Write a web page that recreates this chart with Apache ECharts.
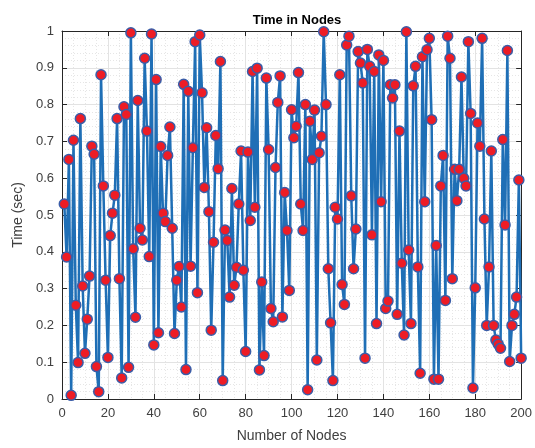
<!DOCTYPE html>
<html>
<head>
<meta charset="utf-8">
<script src="https://cdn.jsdelivr.net/npm/echarts@6/dist/echarts.min.js"></script>
<style>
  html, body { margin: 0; padding: 0; background: #ffffff; }
  #chart { width: 535px; height: 448px; }
</style>
</head>
<body>
<div id="chart"></div>
<script>
// Elapsed time recorded at each node (seconds), nodes 1..200
const timeSec = [
  0.53, 0.386, 0.651, 0.01, 0.703, 0.255, 0.099, 0.762, 0.307, 0.124,
  0.217, 0.334, 0.687, 0.665, 0.088, 0.02, 0.881, 0.579, 0.323, 0.113,
  0.444, 0.505, 0.554, 0.762, 0.327, 0.057, 0.794, 0.773, 0.086, 0.995,
  0.408, 0.222, 0.811, 0.464, 0.432, 0.926, 0.728, 0.387, 0.992, 0.147,
  0.868, 0.18, 0.686, 0.505, 0.482, 0.662, 0.739, 0.464, 0.178, 0.323,
  0.36, 0.25, 0.855, 0.08, 0.836, 0.361, 0.683, 0.971, 0.289, 0.989,
  0.832, 0.575, 0.737, 0.509, 0.187, 0.426, 0.716, 0.626, 0.917, 0.05,
  0.459, 0.431, 0.277, 0.572, 0.309, 0.358, 0.53, 0.674, 0.35, 0.129,
  0.671, 0.485, 0.89, 0.521, 0.899, 0.079, 0.318, 0.118, 0.872, 0.678,
  0.246, 0.21, 0.629, 0.806, 0.878, 0.223, 0.561, 0.458, 0.295, 0.786,
  0.71, 0.741, 0.887, 0.53, 0.458, 0.8, 0.025, 0.755, 0.651, 0.785,
  0.106, 0.669, 0.714, 0.998, 0.8, 0.354, 0.207, 0.05, 0.521, 0.489,
  0.881, 0.311, 0.257, 0.962, 0.986, 0.552, 0.354, 0.462, 0.944, 0.913,
  0.859, 0.111, 0.95, 0.904, 0.446, 0.89, 0.205, 0.935, 0.536, 0.92,
  0.246, 0.266, 0.854, 0.818, 0.854, 0.23, 0.728, 0.369, 0.174, 0.998,
  0.405, 0.205, 0.851, 0.904, 0.359, 0.07, 0.93, 0.536, 0.949, 0.98,
  0.759, 0.054, 0.417, 0.054, 0.579, 0.662, 0.268, 0.986, 0.926, 0.327,
  0.624, 0.539, 0.624, 0.875, 0.6, 0.579, 0.971, 0.776, 0.03, 0.302,
  0.75, 0.687, 0.98, 0.489, 0.2, 0.359, 0.674, 0.2, 0.16, 0.149,
  0.138, 0.705, 0.473, 0.947, 0.102, 0.2, 0.23, 0.277, 0.595, 0.111
];
const nodeIds = timeSec.map((_, i) => i + 1);

const xTicks = { min: 0, max: 200, interval: 20 };
const yTicks = { min: 0, max: 1, interval: 0.1 };

const chartTitle = 'Time in Nodes';
const xName = 'Number of Nodes';
const yName = 'Time (sec)';

const FONT = '"Liberation Sans", Arial, Helvetica, sans-serif';
const TXT = '#404040';
const AXIS = '#262626';

const chart = echarts.init(document.getElementById('chart'), null, { renderer: 'canvas' });

const points = nodeIds.map((n, i) => [n, timeSec[i]]);

const majorGrid = { show: true, lineStyle: { color: '#e3e3e3', width: 1 } };
const minorGrid = { show: true, lineStyle: { color: '#e6e6e6', width: 1, type: [1, 2] } };

function fmtY(v) {
  const r = Math.round(v * 10) / 10;
  return String(r);
}

chart.setOption({
  backgroundColor: '#ffffff',
  animation: false,
  title: {
    text: chartTitle,
    left: 292, top: 9, textAlign: 'center',
    textStyle: { fontFamily: FONT, fontSize: 13, fontWeight: 'bold', color: '#000000' }
  },
  grid: { left: 62, right: 13, top: 31, bottom: 47, show: false },
  xAxis: [
    {
      type: 'value', min: xTicks.min, max: xTicks.max, interval: xTicks.interval,
      name: xName, nameLocation: 'middle', nameGap: 30,
      nameTextStyle: { fontFamily: FONT, fontSize: 14, color: TXT },
      axisLine: { show: true, onZero: false, lineStyle: { color: AXIS, width: 1 } },
      axisTick: { show: true, inside: true, length: 5, lineStyle: { color: AXIS } },
      minorTick: { show: true, splitNumber: 4, length: 0 },
      axisLabel: { fontFamily: FONT, fontSize: 13, color: TXT, margin: 8 },
      splitLine: majorGrid,
      minorSplitLine: minorGrid
    },
    {
      type: 'value', position: 'top', min: xTicks.min, max: xTicks.max, interval: xTicks.interval,
      axisLine: { show: true, onZero: false, lineStyle: { color: AXIS, width: 1 } },
      axisTick: { show: true, inside: true, length: 5, lineStyle: { color: AXIS } },
      axisLabel: { show: false },
      splitLine: { show: false }
    }
  ],
  yAxis: [
    {
      type: 'value', min: yTicks.min, max: yTicks.max, interval: yTicks.interval,
      name: yName, nameLocation: 'middle', nameGap: 34,
      nameTextStyle: { fontFamily: FONT, fontSize: 14, color: TXT },
      axisLine: { show: true, onZero: false, lineStyle: { color: AXIS, width: 1 } },
      axisTick: { show: true, inside: true, length: 5, lineStyle: { color: AXIS } },
      minorTick: { show: true, splitNumber: 5, length: 0 },
      axisLabel: { fontFamily: FONT, fontSize: 13, color: TXT, margin: 8, formatter: fmtY },
      splitLine: majorGrid,
      minorSplitLine: minorGrid
    },
    {
      type: 'value', position: 'right', min: yTicks.min, max: yTicks.max, interval: yTicks.interval,
      axisLine: { show: true, onZero: false, lineStyle: { color: AXIS, width: 1 } },
      axisTick: { show: true, inside: true, length: 5, lineStyle: { color: AXIS } },
      axisLabel: { show: false },
      splitLine: { show: false }
    }
  ],
  series: [{
    type: 'line',
    data: points,
    xAxisIndex: 0, yAxisIndex: 0,
    symbol: 'circle',
    symbolSize: 10,
    showAllSymbol: true,
    clip: false,
    lineStyle: { color: '#1f6fb6', width: 2.5 },
    itemStyle: { color: '#ee1c25', borderColor: '#3a5da8', borderWidth: 1.5 },
    emphasis: { disabled: true }
  }]
});
</script>
</body>
</html>
